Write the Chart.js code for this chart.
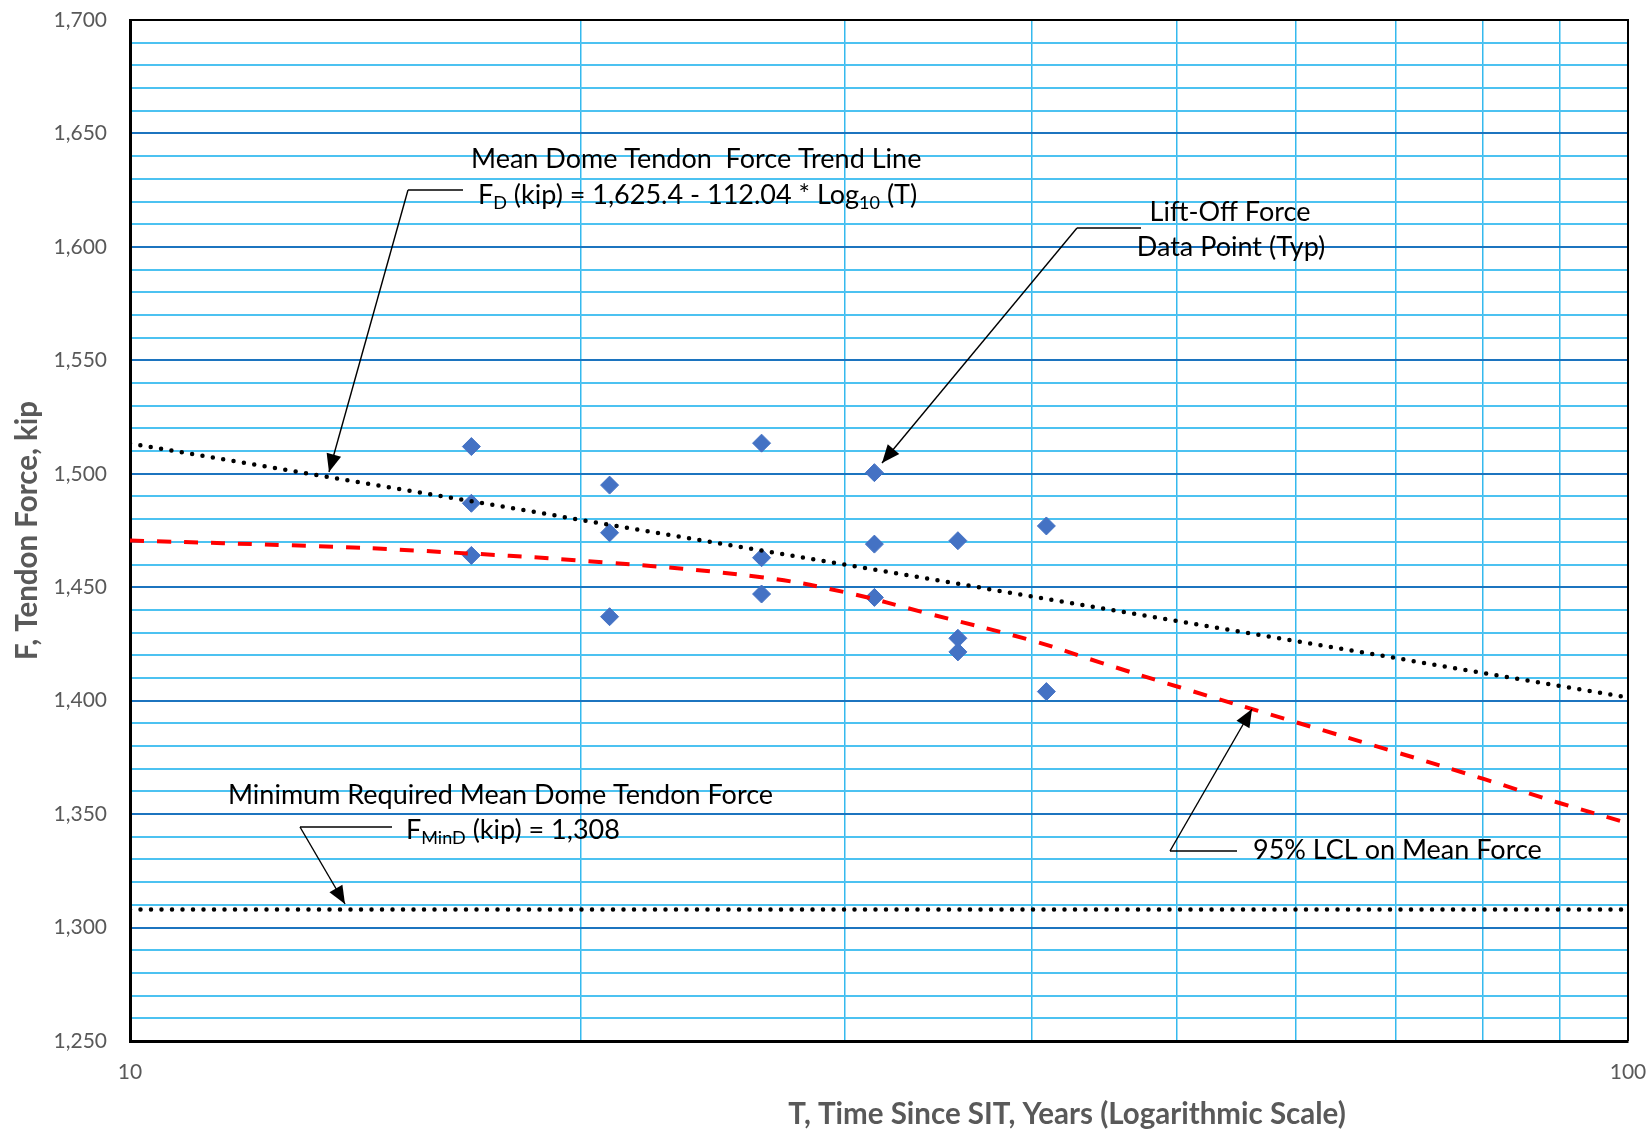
<!DOCTYPE html>
<html>
<head>
<meta charset="utf-8">
<script src="https://cdn.jsdelivr.net/npm/chart.js@4.4.1/dist/chart.umd.min.js"></script>
<style>
  body { margin: 0; background: #fff; }
  #box { width: 1648px; height: 1130px; }
</style>
</head>
<body>
<div id="box"><canvas id="myChart"></canvas></div>
<script>
// lift-off force data points (T years since SIT, F kip)
const pointT = [16.9, 16.9, 16.9, 20.9, 20.9, 20.9, 26.4, 26.4, 26.4, 31.4, 31.4, 31.4, 35.7, 35.7, 35.7, 40.9, 40.9];
const pointF = [1512, 1487, 1464, 1495, 1474, 1437, 1513.5, 1463, 1447, 1500.5, 1469, 1445.5, 1470.5, 1427.5, 1421.5, 1477, 1404];

// mean trend line, read at both ends of the plot
const trendT = [10, 100];
const trendF = [1513.4, 1401.4];

// 95% LCL curve
const lclT = [10, 13.3, 15.5, 20.7, 26.4, 30, 34.1, 40, 44.4, 50.2, 60.1, 70.1, 80.1, 90, 100];
const lclF = [1470.6, 1468.1, 1466.2, 1461.0, 1454.4, 1447.8, 1438.4, 1426.5, 1416.9, 1405.9, 1390.4, 1377.2, 1365.5, 1354.9, 1346.0];

// minimum required force
const minT = [10, 100];
const minF = [1308, 1308];

// axes
const xTicks = [10, 20, 30, 40, 50, 60, 70, 80, 90, 100];
const xLabels = [10, 100];
const yMin = 1250, yMax = 1700, yStep = 10, yLabelStep = 50;

function pts(xs, ys) {
    return xs.map(function (x, i) { return { x: x, y: ys[i] }; });
}

const grey = '#595959';
const fam = 'Lato, "Open Sans", sans-serif';

// draws a text made of normal and subscript parts
function richText(ctx, parts, x, y, size) {
    let cx = x;
    parts.forEach(function (p) {
        const sub = p[1];
        ctx.font = (sub ? Math.round(size * 0.68) : size) + 'px ' + fam;
        ctx.fillText(p[0], cx, y + (sub ? size * 0.3 : 0));
        cx += ctx.measureText(p[0]).width;
    });
}

function arrow(ctx, x0, y0, x1, y1) {
    ctx.lineWidth = 1.4;
    ctx.beginPath();
    ctx.moveTo(x0, y0);
    ctx.lineTo(x1, y1);
    ctx.stroke();
    const ang = Math.atan2(y1 - y0, x1 - x0);
    const len = 18, half = 7.5;
    const bx = x1 - Math.cos(ang) * len, by = y1 - Math.sin(ang) * len;
    ctx.beginPath();
    ctx.moveTo(x1, y1);
    ctx.lineTo(bx + Math.sin(ang) * half, by - Math.cos(ang) * half);
    ctx.lineTo(bx - Math.sin(ang) * half, by + Math.cos(ang) * half);
    ctx.closePath();
    ctx.fill();
}

function leader(ctx, x0, x1, y) {
    ctx.lineWidth = 1.4;
    ctx.beginPath();
    ctx.moveTo(x0, y);
    ctx.lineTo(x1, y);
    ctx.stroke();
}

const notes = {
    id: 'notes',
    afterDraw(chart) {
        const ctx = chart.ctx;
        const a = chart.chartArea;
        ctx.save();
        // top and right frame
        ctx.strokeStyle = '#000';
        ctx.lineWidth = 2;
        ctx.beginPath();
        ctx.moveTo(a.left, a.top);
        ctx.lineTo(a.right, a.top);
        ctx.lineTo(a.right, a.bottom);
        ctx.stroke();

        ctx.fillStyle = '#000';
        ctx.textBaseline = 'middle';
        ctx.textAlign = 'left';
        const fs = 27;
        ctx.font = fs + 'px ' + fam;
        ctx.fillText('Mean Dome Tendon  Force Trend Line', 471, 159);
        richText(ctx, [['F'], ['D', 1], [' (kip) = 1,625.4 - 112.04 * Log'], ['10', 1], [' (T)']], 478, 195, fs);

        ctx.font = fs + 'px ' + fam;
        ctx.textAlign = 'center';
        ctx.fillText('Lift-Off Force', 1230, 212);
        ctx.fillText('Data Point (Typ)', 1231, 247);
        ctx.textAlign = 'left';
        ctx.fillText('Minimum Required Mean Dome Tendon Force', 228, 795);
        richText(ctx, [['F'], ['MinD', 1], [' (kip) = 1,308']], 406, 830, fs);
        ctx.font = fs + 'px ' + fam;
        ctx.fillText('95% LCL on Mean Force', 1253, 850);

        // leaders and arrows
        ctx.strokeStyle = '#000';
        leader(ctx, 408, 463, 190);
        arrow(ctx, 408, 190, 329, 472);
        leader(ctx, 1077, 1141, 228);
        arrow(ctx, 1077, 228, 882, 463);
        leader(ctx, 300, 392, 827);
        arrow(ctx, 300, 827, 345, 904);
        leader(ctx, 1170, 1237, 851);
        arrow(ctx, 1170, 851, 1252, 709);

        // x axis title
        ctx.fillStyle = grey;
        ctx.textAlign = 'center';
        ctx.font = 'bold 29.5px ' + fam;
        ctx.fillText('T, Time Since SIT, Years (Logarithmic Scale)', 1067, 1114);
        ctx.restore();
    }
};

const ctx = document.getElementById('myChart');

new Chart(ctx, {
    type: 'scatter',
    data: {
        datasets: [{
            label: 'Mean trend',
            data: pts(trendT, trendF),
            showLine: true,
            borderColor: '#000',
            borderWidth: 4.5,
            borderDash: [0, 10.5],
            borderCapStyle: 'round',
            pointRadius: 0
        }, {
            label: '95% LCL',
            data: pts(lclT, lclF),
            showLine: true,
            borderColor: '#ff0000',
            borderWidth: 4,
            borderDash: [14, 13],
            tension: 0.4,
            pointRadius: 0
        }, {
            label: 'Minimum required',
            data: pts(minT, minF),
            showLine: true,
            borderColor: '#000',
            borderWidth: 4.5,
            borderDash: [0, 10.5],
            borderCapStyle: 'round',
            pointRadius: 0
        }, {
            label: 'Lift-off force',
            data: pts(pointT, pointF),
            pointStyle: 'rectRot',
            pointRadius: 9,
            pointHoverRadius: 9,
            backgroundColor: '#4472c4',
            borderColor: '#4472c4',
            borderWidth: 1
        }]
    },
    options: {
        responsive: true,
        maintainAspectRatio: false,
        animation: false,
        layout: { padding: { top: 20, right: 20, left: 0, bottom: 0 } },
        plugins: {
            legend: { display: false },
            tooltip: { enabled: false }
        },
        scales: {
            x: {
                type: 'logarithmic',
                min: 10,
                max: 100,
                afterBuildTicks: function (scale) {
                    scale.ticks = xTicks.map(function (v) { return { value: v }; });
                },
                afterFit: function (scale) {
                    scale.height = 89;
                    scale.paddingLeft = 0;
                    scale.paddingRight = 0;
                },
                ticks: {
                    autoSkip: false,
                    maxRotation: 0,
                    padding: 19,
                    color: grey,
                    font: { family: fam, size: 21 },
                    callback: function (v) { return xLabels.includes(v) ? String(v) : ''; }
                },
                grid: {
                    drawTicks: false,
                    color: '#35b9ee',
                    lineWidth: 1.5
                },
                border: { color: '#000', width: 3 }
            },
            y: {
                min: yMin,
                max: yMax,
                afterFit: function (scale) {
                    scale.width = 130;
                    scale.paddingTop = 0;
                    scale.paddingBottom = 0;
                },
                ticks: {
                    stepSize: yStep,
                    autoSkip: false,
                    padding: 23,
                    color: grey,
                    font: { family: fam, size: 21 },
                    callback: function (v) {
                        return v % yLabelStep === 0 ? v.toLocaleString('en-US') : '';
                    }
                },
                grid: {
                    drawTicks: false,
                    color: function (c) {
                        return c.tick && c.tick.value % yLabelStep === 0 ? '#1c74bf' : '#4cc2f1';
                    },
                    lineWidth: 2
                },
                border: { color: '#000', width: 3 },
                title: {
                    display: true,
                    text: 'F, Tendon Force, kip',
                    color: grey,
                    font: { family: fam, size: 29.5, weight: 'bold' },
                    padding: { top: 10, bottom: 0 }
                }
            }
        }
    },
    plugins: [notes]
});
</script>
</body>
</html>
